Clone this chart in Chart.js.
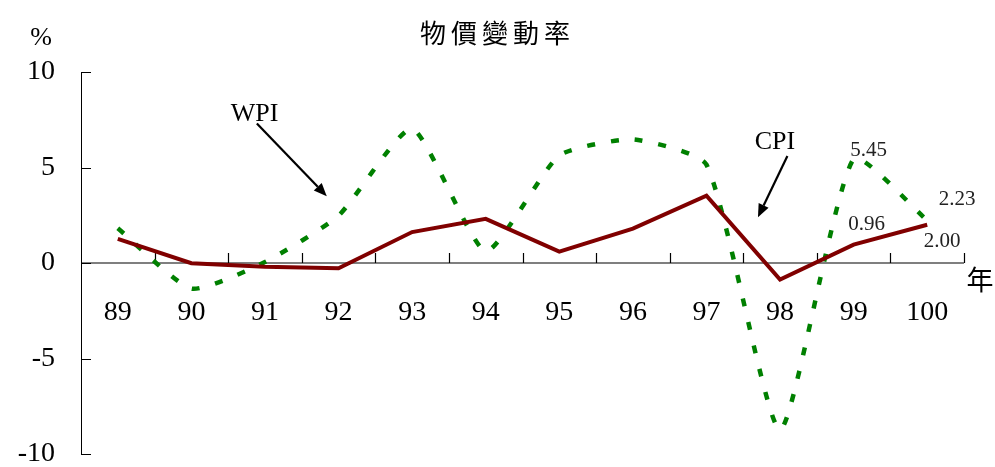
<!DOCTYPE html>
<html><head><meta charset="utf-8">
<script src="https://cdn.jsdelivr.net/npm/chart.js@4/dist/chart.umd.min.js"></script>
<style>html,body{margin:0;padding:0;background:#fff;} #wrap{width:995px;height:467px;}</style>
</head><body><div id="wrap"><canvas id="c" width="995" height="467"></canvas></div>
<script>
const years = ['89','90','91','92','93','94','95','96','97','98','99','100'];
const cpi = [1.26, -0.01, -0.20, -0.28, 1.62, 2.31, 0.60, 1.80, 3.52, -0.87, 0.96, 2.00];
const wpi = [1.82, -1.34, 0.05, 2.48, 7.03, 0.62, 5.63, 6.47, 5.15, -8.73, 5.45, 2.23];
const yMin = -10, yMax = 10, yStep = 5;
const titleText = '物價變動率';
const yUnit = '%';
const xUnit = '年';
// annotations in data space: [category index, value]
const wpiNote = {text: 'WPI', at: [1.86, 7.8], from: [1.89, 7.3], to: [2.84, 3.5]};
const cpiNote = {text: 'CPI', at: [8.93, 6.34], from: [9.10, 5.6], to: [8.70, 2.4]};
// value labels: [series, index, text]
const valueLabels = [
  ['wpi', 10, '5.45'], ['wpi', 11, '2.23'], ['cpi', 10, '0.96'], ['cpi', 11, '2.00']
];
const labelOffsets = {'wpi-10': [15, -8], 'wpi-11': [30, -21], 'cpi-10': [13, -20], 'cpi-11': [15, 17]};

const serif = "'Liberation Serif', 'DejaVu Serif', serif";
const cjk = "'Noto Sans CJK TC', 'Noto Sans CJK SC', sans-serif";

function arrow(ctx, x1, y1, x2, y2) {
  const ang = Math.atan2(y2 - y1, x2 - x1);
  const hl = 13, hw = 5.5;
  const bx = x2 - hl * Math.cos(ang), by = y2 - hl * Math.sin(ang);
  ctx.beginPath();
  ctx.moveTo(x1, y1); ctx.lineTo(bx, by);
  ctx.lineWidth = 2.2; ctx.strokeStyle = '#000'; ctx.stroke();
  ctx.beginPath();
  ctx.moveTo(x2, y2);
  ctx.lineTo(bx + hw * Math.sin(ang), by - hw * Math.cos(ang));
  ctx.lineTo(bx - hw * Math.sin(ang), by + hw * Math.cos(ang));
  ctx.closePath(); ctx.fillStyle = '#000'; ctx.fill();
}

const decor = {
  id: 'decor',
  beforeDatasetsDraw(chart) {
    const {ctx, chartArea: a, scales: {x, y}} = chart;
    const y0 = y.getPixelForValue(0);
    ctx.save();
    ctx.strokeStyle = '#000'; ctx.lineWidth = 1.2;
    ctx.beginPath(); ctx.moveTo(a.left, y0); ctx.lineTo(a.right, y0); ctx.stroke();
    // category boundary ticks (upwards)
    ctx.beginPath();
    for (let i = 1; i <= years.length; i++) {
      let bx = i < years.length ? (x.getPixelForValue(i - 1) + x.getPixelForValue(i)) / 2 : a.right;
      bx = Math.round(bx) + 0.5;
      ctx.moveTo(bx, y0); ctx.lineTo(bx, y0 - 10);
    }
    ctx.stroke();
    // inward y ticks
    ctx.lineWidth = 1;
    ctx.beginPath();
    y.ticks.forEach(t => {
      const py = Math.round(y.getPixelForValue(t.value)) + 0.5;
      ctx.moveTo(a.left, py); ctx.lineTo(a.left + 10, py);
    });
    ctx.stroke();
    ctx.restore();
  },
  afterDraw(chart) {
    const {ctx, chartArea: a, scales: {x, y}} = chart;
    const px = v => x.getPixelForValue(0) + v * (x.getPixelForValue(1) - x.getPixelForValue(0));
    ctx.save();
    // title with letter spacing
    ctx.fillStyle = '#000';
    ctx.font = '26px ' + cjk;
    ctx.textBaseline = 'middle';
    const sp = 5;
    const chars = [...titleText];
    const widths = chars.map(c => ctx.measureText(c).width);
    const total = widths.reduce((s, w) => s + w, 0) + sp * (chars.length - 1);
    let tx = 495 - total / 2;
    ctx.textAlign = 'left';
    chars.forEach((c, i) => { ctx.fillText(c, tx, 33); tx += widths[i] + sp; });
    // unit labels
    ctx.font = '26px ' + serif;
    ctx.textAlign = 'center';
    ctx.fillText(yUnit, 41, 38);
    ctx.font = '27px ' + cjk;
    ctx.fillText(xUnit, 980, y.getPixelForValue(0) + 17);
    // notes
    [wpiNote, cpiNote].forEach(n => {
      ctx.font = '26px ' + serif;
      ctx.fillStyle = '#000';
      ctx.textAlign = 'center';
      ctx.fillText(n.text, px(n.at[0]), y.getPixelForValue(n.at[1]));
      arrow(ctx, px(n.from[0]), y.getPixelForValue(n.from[1]), px(n.to[0]), y.getPixelForValue(n.to[1]));
    });
    // value labels
    ctx.font = '21px ' + serif;
    ctx.fillStyle = '#222';
    ctx.textAlign = 'center';
    valueLabels.forEach(([s, i, t]) => {
      const v = s === 'cpi' ? cpi[i] : wpi[i];
      const off = labelOffsets[s + '-' + i];
      ctx.fillText(t, x.getPixelForValue(i) + off[0], y.getPixelForValue(v) + off[1]);
    });
    ctx.restore();
  }
};

new Chart(document.getElementById('c'), {
  type: 'line',
  data: {
    labels: years,
    datasets: [
      {label: 'CPI', data: cpi, borderColor: '#800000', borderWidth: 4, pointRadius: 0, tension: 0, fill: false, order: 1},
      {label: 'WPI', data: wpi, borderColor: '#008000', borderWidth: 4.5, borderDash: [8, 16], pointRadius: 0, tension: 0.18, fill: false, order: 2}
    ]
  },
  options: {
    responsive: false,
    animation: false,
    devicePixelRatio: 1,
    layout: {padding: {top: 72, right: 31, bottom: 13, left: 0}},
    plugins: {legend: {display: false}, title: {display: false}, tooltip: {enabled: false}},
    scales: {
      x: {
        type: 'category', offset: true, position: {y: 0},
        grid: {display: false}, border: {display: false},
        ticks: {font: {family: serif, size: 28}, color: '#000', padding: 25, maxRotation: 0, autoSkip: false},
        afterFit: s => { s.height = 0; }
      },
      y: {
        min: yMin, max: yMax,
        grid: {display: true, drawOnChartArea: false, drawTicks: true, tickLength: 26, tickColor: 'rgba(0,0,0,0)'},
        border: {display: true, color: '#000', width: 1},
        ticks: {stepSize: yStep, font: {family: serif, size: 28, lineHeight: 0.9}, color: '#000', padding: 0},
        afterFit: s => { s.width = 81; }
      }
    }
  },
  plugins: [decor]
});
</script>
</body></html>
